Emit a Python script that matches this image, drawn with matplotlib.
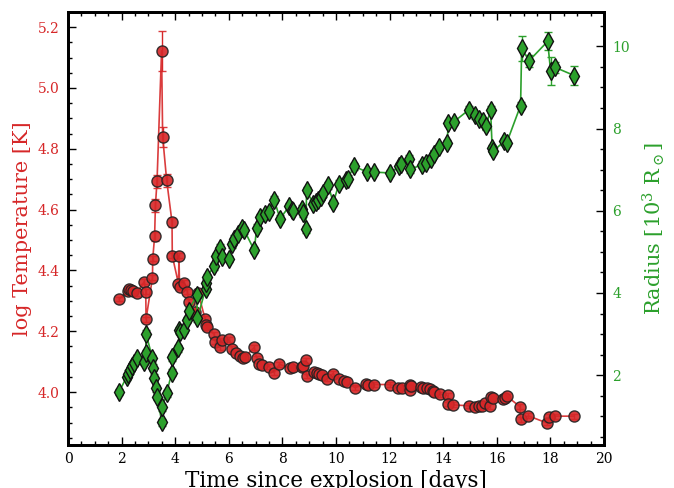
import matplotlib
matplotlib.use("Agg")
import matplotlib.pyplot as plt
import numpy as np
from matplotlib.ticker import MultipleLocator

plt.rcParams['font.family'] = ['DejaVu Serif']
plt.rcParams['mathtext.fontset'] = 'dejavuserif'

# Temperature data (days, log T)
t_temp = [1.91, 2.23, 2.29, 2.35, 2.44, 2.56, 2.84, 2.90, 2.91, 3.15, 3.16, 3.23, 3.26, 3.32,
          3.49, 3.53, 3.68, 3.88, 3.89, 4.12, 4.14, 4.16, 4.34, 4.45, 4.50, 4.74, 4.86, 5.11,
          5.14, 5.17, 5.45, 5.50, 5.67, 5.73, 6.02, 6.11, 6.27, 6.42, 6.52, 6.60, 6.95, 7.04,
          7.14, 7.23, 7.51, 7.69, 7.89, 8.28, 8.38, 8.72, 8.78, 8.88, 8.90, 9.18, 9.28, 9.38,
          9.49, 9.68, 9.88, 10.11, 10.31, 10.42, 10.70, 11.12, 11.18, 11.43, 12.01, 12.33,
          12.45, 12.76, 12.77, 12.80, 13.17, 13.26, 13.38, 13.51, 13.63, 13.67, 13.88, 14.17,
          14.19, 14.38, 14.97, 15.19, 15.35, 15.45, 15.56, 15.75, 15.78, 15.87, 16.22, 16.31,
          16.37, 16.87, 16.89, 17.18, 17.86, 17.96, 18.17, 18.89]
log_temp = [4.306, 4.332, 4.339, 4.335, 4.332, 4.325, 4.363, 4.330, 4.240, 4.376, 4.438, 4.512,
            4.614, 4.693, 5.122, 4.840, 4.696, 4.559, 4.448, 4.357, 4.448, 4.346, 4.360, 4.330,
            4.297, 4.264, 4.325, 4.242, 4.220, 4.213, 4.190, 4.166, 4.147, 4.171, 4.174, 4.142,
            4.129, 4.118, 4.112, 4.116, 4.147, 4.111, 4.094, 4.090, 4.083, 4.064, 4.092, 4.078,
            4.081, 4.081, 4.085, 4.105, 4.053, 4.067, 4.064, 4.059, 4.056, 4.044, 4.061, 4.042,
            4.036, 4.034, 4.015, 4.026, 4.025, 4.025, 4.025, 4.015, 4.015, 4.007, 4.023, 4.020,
            4.017, 4.015, 4.013, 4.009, 4.003, 4.001, 3.993, 3.989, 3.961, 3.958, 3.955, 3.950,
            3.953, 3.956, 3.963, 3.954, 3.985, 3.980, 3.979, 3.982, 3.987, 3.952, 3.911, 3.922,
            3.899, 3.919, 3.921, 3.921]
log_temp_err = [0.008] * len(t_temp)
for i, v in enumerate(log_temp):
    if v > 5.0:
        log_temp_err[i] = 0.065
    elif v > 4.8:
        log_temp_err[i] = 0.033
    elif v > 4.6:
        log_temp_err[i] = 0.022
    elif v > 4.5:
        log_temp_err[i] = 0.015

# Radius data (days, 10^3 Rsun)
t_rad = [1.90, 2.19, 2.25, 2.31, 2.40, 2.47, 2.56, 2.85, 2.90, 2.91, 3.15, 3.16, 3.22, 3.27,
         3.33, 3.50, 3.52, 3.68, 3.87, 3.89, 4.12, 4.14, 4.16, 4.33, 4.43, 4.50, 4.80, 4.83,
         5.13, 5.15, 5.17, 5.46, 5.51, 5.67, 5.76, 6.01, 6.11, 6.21, 6.36, 6.48, 6.58, 6.95,
         7.04, 7.16, 7.35, 7.50, 7.69, 7.91, 8.26, 8.34, 8.41, 8.72, 8.78, 8.88, 8.90, 9.15,
         9.24, 9.34, 9.44, 9.53, 9.71, 9.90, 10.11, 10.37, 10.43, 10.68, 11.17, 11.42, 12.01,
         12.36, 12.43, 12.74, 12.78, 13.21, 13.36, 13.53, 13.66, 13.86, 14.15, 14.19, 14.39,
         14.97, 15.19, 15.35, 15.47, 15.60, 15.77, 15.83, 15.87, 16.28, 16.37, 16.89, 16.93,
         17.21, 17.90, 18.01, 18.17, 18.89]
radius = [1.59, 1.96, 2.04, 2.12, 2.22, 2.30, 2.41, 2.32, 2.53, 3.01, 2.41, 2.18, 1.94, 1.68,
          1.47, 0.85, 1.22, 1.56, 2.06, 2.43, 2.65, 3.09, 3.05, 3.11, 3.34, 3.57, 3.94, 3.38,
          4.10, 4.25, 4.39, 4.65, 4.89, 5.10, 4.87, 4.83, 5.18, 5.32, 5.44, 5.57, 5.52, 5.04,
          5.59, 5.85, 5.93, 5.97, 6.27, 5.81, 6.11, 6.03, 5.99, 6.05, 5.94, 5.55, 6.50, 6.17,
          6.21, 6.27, 6.33, 6.42, 6.62, 6.19, 6.66, 6.74, 6.78, 7.08, 6.94, 6.94, 6.92, 7.08,
          7.13, 7.27, 7.01, 7.12, 7.17, 7.27, 7.39, 7.55, 7.65, 8.13, 8.16, 8.46, 8.32, 8.24,
          8.18, 8.05, 8.46, 7.52, 7.45, 7.69, 7.65, 8.56, 9.95, 9.65, 10.12, 9.40, 9.49, 9.29]
radius_err = [0.08] * len(t_rad)
radius_err[-6] = 0.31
radius_err[-5] = 0.15
radius_err[-4] = 0.22
radius_err[-3] = 0.34
radius_err[-2] = 0.14
radius_err[-1] = 0.24

red = '#d62728'
green = '#2ca02c'

fig = plt.figure(figsize=(6.74, 4.88), dpi=100)
ax1 = fig.add_axes([0.101, 0.088, 0.795, 0.887])
ax2 = ax1.twinx()

ax1.errorbar(t_temp, log_temp, yerr=log_temp_err, color=red, ecolor=red,
             lw=1.2, elinewidth=1.0, capsize=3, marker='o', ms=8,
             mfc=red, mec='#222222', mew=1.0, zorder=3)
ax2.errorbar(t_rad, radius, yerr=radius_err, color=green, ecolor=green,
             lw=1.2, elinewidth=1.0, capsize=3, marker='d', ms=9,
             mfc=green, mec='#111111', mew=1.0, zorder=3)

for ln in ax1.lines:
    ln.set_alpha(0.9)

ax1.set_xlim(0, 20)
ax1.set_ylim(3.826, 5.249)
ax2.set_ylim(0.3, 10.83)

ax1.xaxis.set_major_locator(MultipleLocator(2))
ax1.xaxis.set_minor_locator(MultipleLocator(0.5))
ax1.yaxis.set_major_locator(MultipleLocator(0.2))
ax1.yaxis.set_minor_locator(MultipleLocator(0.05))
ax2.yaxis.set_major_locator(MultipleLocator(2))
ax2.yaxis.set_minor_locator(MultipleLocator(0.5))

ax1.tick_params(axis='x', which='both', direction='in', top=True, bottom=True, labelsize=10, pad=5)
ax1.tick_params(axis='y', which='both', direction='in', left=True, right=False,
                labelsize=10, labelcolor=red, pad=6)
ax1.tick_params(which='major', length=6, width=1)
ax1.tick_params(which='minor', length=3, width=1)
ax2.tick_params(axis='y', which='both', direction='in', right=True, left=False,
                labelsize=10, labelcolor=green, pad=6)
ax2.tick_params(which='major', length=6, width=1)
ax2.tick_params(which='minor', length=3, width=1)

for ax in (ax1, ax2):
    for sp in ax.spines.values():
        sp.set_linewidth(2)

ax1.set_xlabel('Time since explosion [days]', fontsize=15.5, labelpad=3)
ax1.set_ylabel('log Temperature [K]', fontsize=15, color=red)
ax2.set_ylabel(r'Radius [10$^3$ R$_\odot$]', fontsize=15, color=green, labelpad=8)

fig.savefig('out.png', dpi=100)
